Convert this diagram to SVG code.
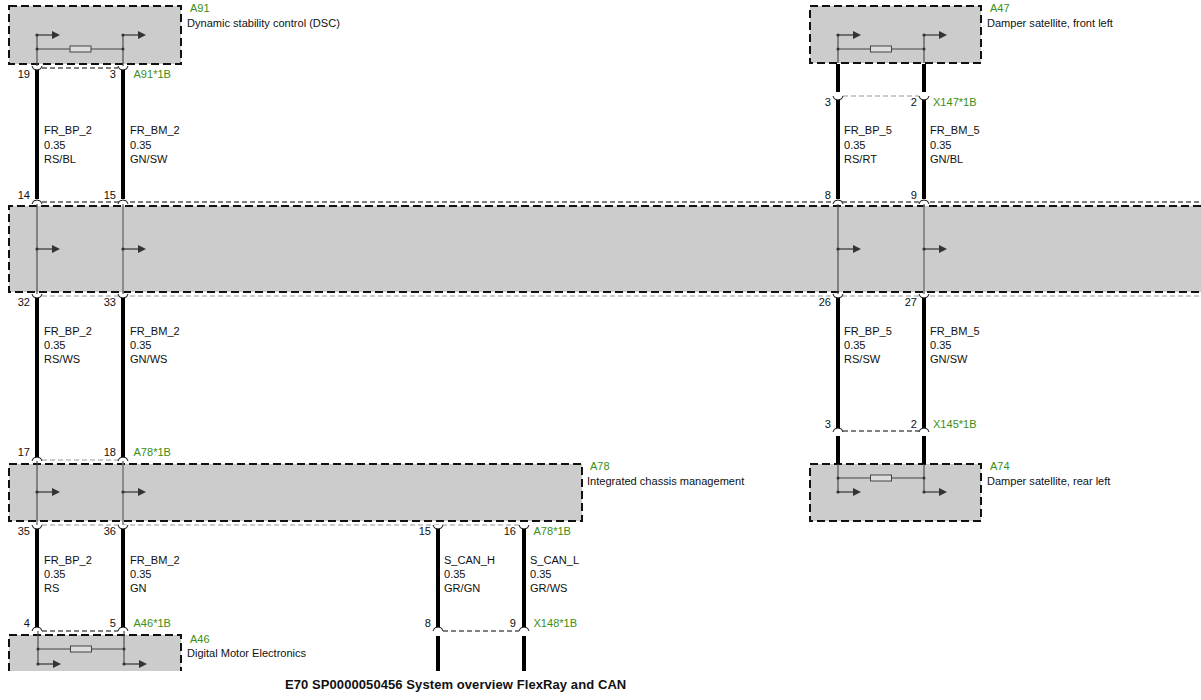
<svg xmlns="http://www.w3.org/2000/svg" width="1201" height="700" viewBox="0 0 1201 700">
<style>
text{font-family:"Liberation Sans",Arial,sans-serif;font-size:11.05px;fill:#111}
.g{fill:#3a8f14}
.e{text-anchor:end}
.t{font-weight:bold;font-size:13px;letter-spacing:.08px}
.box{fill:#ccc}
.bd{fill:none;stroke:#111;stroke-width:2;stroke-dasharray:8 4}
.w{stroke:#000;stroke-width:4;fill:none}
.in{stroke:#444;stroke-width:1.1;fill:none}
.in2{stroke:#777;stroke-width:1.5;fill:none}
.dk{stroke:#000;stroke-width:1;stroke-dasharray:5 3;fill:none}
.gy{stroke:#999;stroke-width:1.2;stroke-dasharray:5 3;fill:none}
.cap{stroke:#111;stroke-width:1;fill:#fff}
.res{fill:#ddd;stroke:#444;stroke-width:1}
</style>
<defs>
<g id="arr"><circle r="1.6" fill="#333"/><path d="M0 0H16" stroke="#333" stroke-width="1.2"/><path d="M15-4L23 0L15 4Z" fill="#333"/></g>
<path id="up" d="M-5 4Q-4.500 0 0 0Q4.500 0 5 4" class="cap"/>
<path id="dn" d="M-5 0Q-4.500 4 0 4Q4.500 4 5 0" class="cap"/>
<g id="rs"><rect x="-10.500" y="-3" width="21" height="6" class="res"/></g>
</defs>

<g id="A91">
<rect class="box" x="9" y="6" width="172" height="58"/>
<rect class="bd" x="9" y="6" width="172" height="58"/>
<path class="in" d="M37 35V68M123 35V68M37 49H123"/>
<use href="#arr" x="37" y="35"/><use href="#arr" x="123" y="35"/>
<circle cx="37" cy="49" r="1.500" fill="#333"/><circle cx="123" cy="49" r="1.500" fill="#333"/>
<use href="#rs" x="80.500" y="49"/>
<text class="g" x="190" y="12">A91</text>
<text x="187" y="27">Dynamic stability control (DSC)</text>
</g>

<g id="A47">
<rect class="box" x="810" y="6" width="171" height="57"/>
<rect class="bd" x="810" y="6" width="171" height="57"/>
<path class="in" d="M838 35V63M924 35V63M838 49H924"/>
<use href="#arr" x="838" y="35"/><use href="#arr" x="924" y="35"/>
<circle cx="838" cy="49" r="1.500" fill="#333"/><circle cx="924" cy="49" r="1.500" fill="#333"/>
<use href="#rs" x="881" y="49"/>
<text class="g" x="990" y="12">A47</text>
<text x="987" y="27">Damper satellite, front left</text>
</g>

<g id="bus">
<rect class="box" x="9" y="206" width="1192" height="86"/>
<path class="bd" d="M1201 206H9V292H1201"/>
<path class="in" d="M37 200V298M838 200V298"/>
<path class="in2" d="M123 200V298M924 200V298"/>
<use href="#arr" x="37" y="249"/><use href="#arr" x="123" y="249"/>
<use href="#arr" x="838" y="249"/><use href="#arr" x="924" y="249"/>
</g>

<g id="A78">
<rect class="box" x="9" y="464" width="573" height="57"/>
<rect class="bd" x="9" y="464" width="573" height="57"/>
<path class="in" d="M37 458V528"/><path class="in2" d="M123 458V528"/>
<use href="#arr" x="37" y="492"/><use href="#arr" x="123" y="492"/>
<text class="g" x="590" y="470">A78</text>
<text x="587" y="485">Integrated chassis management</text>
</g>

<g id="A74">
<rect class="box" x="810" y="464" width="171" height="57"/>
<rect class="bd" x="810" y="464" width="171" height="57"/>
<path class="in" d="M838 464V492M924 464V492M838 478H924"/>
<use href="#arr" x="838" y="492"/><use href="#arr" x="924" y="492"/>
<circle cx="838" cy="478" r="1.500" fill="#333"/><circle cx="924" cy="478" r="1.500" fill="#333"/>
<use href="#rs" x="881" y="478"/>
<text class="g" x="990" y="470">A74</text>
<text x="987" y="485">Damper satellite, rear left</text>
</g>

<g id="A46">
<rect class="box" x="9" y="635" width="172" height="36"/>
<path class="bd" d="M9 671V635H181V671"/>
<path class="in" d="M38 631V664M124 631V664M38 649H124"/>
<use href="#arr" x="38" y="664"/><use href="#arr" x="124" y="664"/>
<circle cx="38" cy="649" r="1.500" fill="#333"/><circle cx="124" cy="649" r="1.500" fill="#333"/>
<use href="#rs" x="81" y="649"/>
<text class="g" x="190" y="643">A46</text>
<text x="187" y="657">Digital Motor Electronics</text>
</g>

<g id="connectors">
<path class="w" d="M37 70V199M123 70V199M37 298V457M123 298V457M37 529V627M123 529V627"/>
<path class="w" d="M838 64V92M924 64V92M838 100V199M924 100V199M838 298V428M924 298V428M838 436V464M924 436V464"/>
<path class="w" d="M438 529V627M524 529V627M438 636V671M524 636V671"/>
<path class="dk" d="M42 68H118"/>
<path class="dk" d="M42 202H1201"/>
<path class="gy" d="M42 296H1201"/>
<path class="gy" d="M42 460H118"/>
<path class="gy" d="M42 525H519"/>
<path class="dk" d="M42 631H118"/>
<path class="gy" d="M843 96H919"/>
<path class="dk" d="M843 431H919"/>
<path class="dk" d="M443 631H519"/>
<g>
<use href="#dn" x="37" y="66"/><use href="#dn" x="123" y="66"/>
<use href="#up" x="37" y="200"/><use href="#up" x="123" y="200"/><use href="#up" x="838" y="200"/><use href="#up" x="924" y="200"/>
<use href="#dn" x="37" y="294"/><use href="#dn" x="123" y="294"/><use href="#dn" x="838" y="294"/><use href="#dn" x="924" y="294"/>
<use href="#up" x="37" y="457"/><use href="#up" x="123" y="457"/>
<use href="#dn" x="37" y="525"/><use href="#dn" x="123" y="525"/><use href="#dn" x="438" y="525"/><use href="#dn" x="524" y="525"/>
<use href="#up" x="37" y="627"/><use href="#up" x="123" y="627"/><use href="#up" x="438" y="627"/><use href="#up" x="524" y="627"/>
<use href="#dn" x="838" y="96"/><use href="#dn" x="924" y="96"/>
<use href="#up" x="838" y="428"/><use href="#up" x="924" y="428"/>
</g>
</g>

<g id="labels">
<text class="e" x="30" y="78">19</text><text class="e" x="116" y="78">3</text><text class="g" x="133.500" y="78">A91*1B</text>
<text class="e" x="30" y="199">14</text><text class="e" x="116" y="199">15</text>
<text class="e" x="30" y="306">32</text><text class="e" x="116" y="306">33</text>
<text class="e" x="30" y="456">17</text><text class="e" x="116" y="456">18</text><text class="g" x="133.500" y="456">A78*1B</text>
<text class="e" x="30" y="535">35</text><text class="e" x="116" y="535">36</text>
<text class="e" x="30" y="627">4</text><text class="e" x="116" y="627">5</text><text class="g" x="133.500" y="627">A46*1B</text>
<text class="e" x="831" y="106">3</text><text class="e" x="917" y="106">2</text><text class="g" x="933" y="106">X147*1B</text>
<text class="e" x="831" y="199">8</text><text class="e" x="917" y="199">9</text>
<text class="e" x="831" y="306">26</text><text class="e" x="917" y="306">27</text>
<text class="e" x="831" y="428">3</text><text class="e" x="917" y="428">2</text><text class="g" x="933" y="428">X145*1B</text>
<text class="e" x="431" y="535">15</text><text class="e" x="516" y="535">16</text><text class="g" x="533.500" y="535">A78*1B</text>
<text class="e" x="431" y="627">8</text><text class="e" x="516" y="627">9</text><text class="g" x="533.500" y="627">X148*1B</text>

<text x="44" y="134">FR_BP_2</text><text x="44" y="149">0.35</text><text x="44" y="163">RS/BL</text>
<text x="130" y="134">FR_BM_2</text><text x="130" y="149">0.35</text><text x="130" y="163">GN/SW</text>
<text x="44" y="335">FR_BP_2</text><text x="44" y="349">0.35</text><text x="44" y="363">RS/WS</text>
<text x="130" y="335">FR_BM_2</text><text x="130" y="349">0.35</text><text x="130" y="363">GN/WS</text>
<text x="44" y="564">FR_BP_2</text><text x="44" y="578">0.35</text><text x="44" y="592">RS</text>
<text x="130" y="564">FR_BM_2</text><text x="130" y="578">0.35</text><text x="130" y="592">GN</text>
<text x="844" y="134">FR_BP_5</text><text x="844" y="149">0.35</text><text x="844" y="163">RS/RT</text>
<text x="930" y="134">FR_BM_5</text><text x="930" y="149">0.35</text><text x="930" y="163">GN/BL</text>
<text x="844" y="335">FR_BP_5</text><text x="844" y="349">0.35</text><text x="844" y="363">RS/SW</text>
<text x="930" y="335">FR_BM_5</text><text x="930" y="349">0.35</text><text x="930" y="363">GN/SW</text>
<text x="444" y="564">S_CAN_H</text><text x="444" y="578">0.35</text><text x="444" y="592">GR/GN</text>
<text x="530" y="564">S_CAN_L</text><text x="530" y="578">0.35</text><text x="530" y="592">GR/WS</text>
<text class="t" x="285" y="689">E70 SP0000050456 System overview FlexRay and CAN</text>
</g>
</svg>
